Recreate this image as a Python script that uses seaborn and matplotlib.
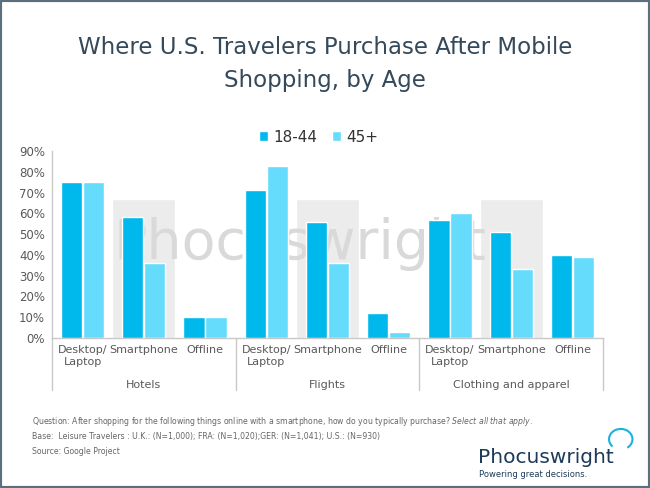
import pandas as pd
import seaborn as sns
import matplotlib.pyplot as plt
from matplotlib.patches import Rectangle, Arc

# data
groups = ["Hotels", "Flights", "Clothing and apparel"]
channels = ["Desktop/\nLaptop", "Smartphone", "Offline"]
ages = ["18-44", "45+"]
young = [75, 58, 10, 71, 56, 12, 57, 51, 40]
older = [75, 36, 10, 83, 36, 3, 60, 33, 39]
yticks = [0, 10, 20, 30, 40, 50, 60, 70, 80, 90]

colors = ["#00b9ec", "#66dcfc"]

slots = [g + "|" + c for g in groups for c in channels]
df = pd.DataFrame({
    "slot": slots * 2,
    "age": [ages[0]] * len(slots) + [ages[1]] * len(slots),
    "value": [v / 100 for v in young + older],
})

sns.set_style("white")
plt.rcParams['font.family'] = ['DejaVu Sans']

fig = plt.figure(figsize=(6.5, 4.88), dpi=100)
ax = fig.add_axes([0.08, 0.3074, 0.8477, 0.3832])

sns.barplot(data=df, x="slot", y="value", hue="age", order=slots,
            hue_order=ages, palette=colors, width=0.72, gap=0.04,
            saturation=1, ax=ax, zorder=3)

# grey highlight boxes behind the smartphone bars (part of the watermark)
hl = [slots.index(g + "|Smartphone") for g in groups]
boxes = ax.bar(hl, [0.67] * len(hl), width=1.03, color="#ececec")
for b in boxes:
    b.set_zorder(0.5)

# watermark, above the grey boxes but behind the bars
wm = ax.text(0.45, 0.5, "Phocuswright", transform=ax.transAxes, fontsize=40,
             color="#d9d9d9", ha="center", va="center")
wm.set_zorder(1.5)

ax.set_xlim(-0.5, len(slots) - 0.5)
ax.set_ylim(0, 0.9)
ax.set_yticks([t / 100 for t in yticks])
ax.set_yticklabels([f"{t}%" for t in yticks], fontsize=8.5, color="#595959")
ax.set_xticks(range(len(slots)))
ax.set_xticklabels(channels * len(groups), fontsize=8, color="#595959",
                   linespacing=1.25)
ax.tick_params(axis="both", length=0, pad=5)
ax.set_xlabel("")
ax.set_ylabel("")
for s in ["top", "right"]:
    ax.spines[s].set_visible(False)
for s in ["left", "bottom"]:
    ax.spines[s].set_color("#c8c8c8")
    ax.spines[s].set_linewidth(1)
ax.spines["left"].set_bounds(0, 0.9)

# group labels and separators below the axis
trans = ax.get_xaxis_transform()
n = len(channels)
for i, g in enumerate(groups):
    ax.text(i * n + (n - 1) / 2, -0.252, g, transform=trans, ha="center",
            va="center", fontsize=8, color="#595959")
for i in range(len(groups) + 1):
    ax.plot([i * n - 0.5] * 2, [0, -0.28], transform=trans, color="#c8c8c8",
            lw=1, clip_on=False)

# legend
handles, labels = ax.get_legend_handles_labels()
ax.legend(handles, labels, loc="center", bbox_to_anchor=(0.49, 0.719),
          bbox_transform=fig.transFigure, ncol=2, frameon=False,
          fontsize=11, handlelength=0.6, handleheight=0.6,
          handletextpad=0.3, columnspacing=1.0, labelcolor="#333333")

# title
fig.text(0.5, 0.869, "Where U.S. Travelers Purchase After Mobile\nShopping, by Age",
         ha="center", va="center", fontsize=16.5, color="#34495a",
         linespacing=1.55)

# footnote
fig.text(0.049, 0.137, "Question: After shopping for the following things online with a smartphone, how do you typically purchase? $\\it{Select\\ all\\ that\\ apply}$.",
         fontsize=5.6, color="#666666", va="center")
fig.text(0.049, 0.106, "Base:  Leisure Travelers : U.K.: (N=1,000); FRA: (N=1,020);GER: (N=1,041); U.S.: (N=930)",
         fontsize=5.6, color="#666666", va="center")
fig.text(0.049, 0.074, "Source: Google Project", fontsize=5.6,
         color="#666666", va="center")

# logo
fig.text(0.735, 0.062, "Phocuswright", fontsize=14.5, color="#1d3a58",
         va="center", ha="left")
fig.text(0.737, 0.028, "Powering great decisions.", fontsize=6,
         color="#1d3a58", va="center", ha="left")
fig.patches.append(Arc((0.955, 0.1), 0.036, 0.042, theta1=-60, theta2=230,
                       transform=fig.transFigure, color="#1ab2df", lw=1.5))

# frame
fig.patches.append(Rectangle((0, 0), 1, 1, transform=fig.transFigure,
                             fill=False, edgecolor="#5c6f7c", lw=3))

fig.savefig("out.png", dpi=100)
